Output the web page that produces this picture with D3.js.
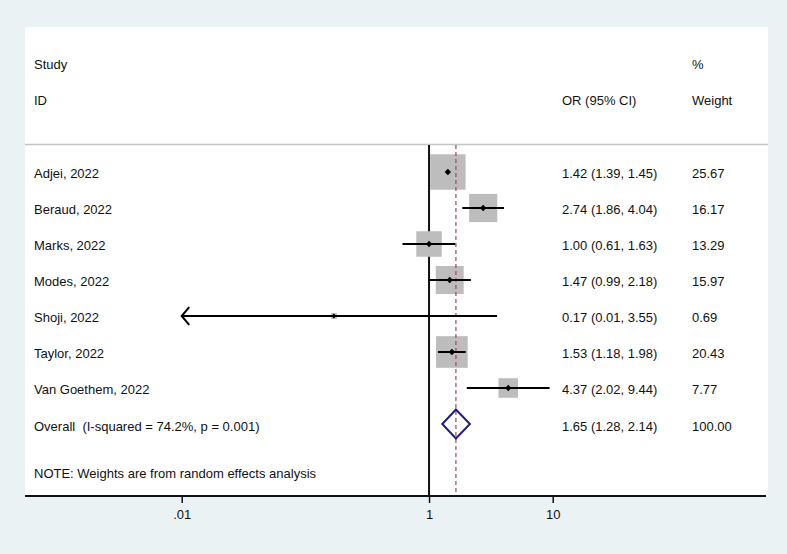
<!DOCTYPE html>
<html>
<head>
<meta charset="utf-8">
<script src="https://cdn.jsdelivr.net/npm/d3@7/dist/d3.min.js"></script>
<style>
  html, body { margin: 0; padding: 0; background: rgb(234,242,243); }
  svg { display: block; }
  text { font-family: "Liberation Sans", Arial, Helvetica, sans-serif; font-size: 13px; fill: #111; white-space: pre; }
</style>
</head>
<body>
<svg id="chart" width="787" height="554"></svg>
<script>
// ---- data ----
const studies = ["Adjei, 2022", "Beraud, 2022", "Marks, 2022", "Modes, 2022", "Shoji, 2022", "Taylor, 2022", "Van Goethem, 2022"];
const oddsRatios = [1.42, 2.74, 1.00, 1.47, 0.17, 1.53, 4.37];
const ciLower = [1.39, 1.86, 0.61, 0.99, 0.01, 1.18, 2.02];
const ciUpper = [1.45, 4.04, 1.63, 2.18, 3.55, 1.98, 9.44];
const weights = [25.67, 16.17, 13.29, 15.97, 0.69, 20.43, 7.77];
const orLabels = ["1.42 (1.39, 1.45)", "2.74 (1.86, 4.04)", "1.00 (0.61, 1.63)", "1.47 (0.99, 2.18)", "0.17 (0.01, 3.55)", "1.53 (1.18, 1.98)", "4.37 (2.02, 9.44)"];
const weightLabels = ["25.67", "16.17", "13.29", "15.97", "0.69", "20.43", "7.77"];
const overallLabel = "Overall  (I-squared = 74.2%, p = 0.001)";
const overallOR = [1.65];
const overallLower = [1.28];
const overallUpper = [2.14];
const overallORLabel = "1.65 (1.28, 2.14)";
const overallWeightLabel = "100.00";
const noteText = "NOTE: Weights are from random effects analysis";
const tickValues = [0.01, 1, 10];
const tickLabels = [".01", "1", "10"];
const nullValue = 1;

// ---- layout ----
const W = 787, H = 554;
const panel = { x0: 25, x1: 768, y0: 27, y1: 496 };
const svg = d3.select("#chart");

svg.append("rect").attr("x", 0).attr("y", 0).attr("width", W).attr("height", H).attr("fill", "rgb(234,242,243)");
svg.append("rect").attr("x", panel.x0).attr("y", panel.y0)
  .attr("width", panel.x1 - panel.x0).attr("height", panel.y1 - panel.y0).attr("fill", "#fff");

const x = d3.scaleLog().domain([0.01, 10]).range([181.7, 552.7]);
const y = d3.scaleLinear().domain([0, studies.length]).range([172, 424]);
const boxSide = d3.scaleSqrt().domain([0, 100]).range([0, 70]);

const colStudy = 34, colOR = 562, colW = 692;

// header
const hdr = svg.append("g");
hdr.append("text").attr("x", colStudy).attr("y", 69).text("Study");
hdr.append("text").attr("x", colStudy).attr("y", 105).text("ID");
hdr.append("text").attr("x", colOR).attr("y", 105).text("OR (95% CI)");
hdr.append("text").attr("x", colW).attr("y", 69).text("%");
hdr.append("text").attr("x", colW).attr("y", 105).text("Weight");
svg.append("line").attr("x1", panel.x0).attr("x2", panel.x1).attr("y1", 144.5).attr("y2", 144.5)
  .attr("stroke", "#c4c4c4").attr("stroke-width", 1.5);

// reference lines
const vTop = 145, vBot = panel.y1;
svg.append("line").attr("x1", x(nullValue)).attr("x2", x(nullValue)).attr("y1", vTop).attr("y2", vBot)
  .attr("stroke", "#111").attr("stroke-width", 2);

// boxes
const rows = studies.map((s, i) => ({ s, i, or: oddsRatios[i], lo: ciLower[i], hi: ciUpper[i], w: weights[i] }));
svg.append("g").selectAll("rect").data(rows).join("rect")
  .attr("x", d => x(d.or) - boxSide(d.w) / 2)
  .attr("y", d => y(d.i) - boxSide(d.w) / 2)
  .attr("width", d => boxSide(d.w))
  .attr("height", d => boxSide(d.w))
  .attr("fill", "#bdbdbd");

// overall dashed line
svg.append("line").attr("x1", x(overallOR[0])).attr("x2", x(overallOR[0])).attr("y1", vTop).attr("y2", vBot)
  .attr("stroke", "#b04050").attr("stroke-width", 1.2).attr("stroke-dasharray", "4,3");

// CI lines
const xMin = x.domain()[0];
const ci = svg.append("g");
rows.forEach(d => {
  const left = Math.max(d.lo, xMin);
  ci.append("line").attr("x1", x(left)).attr("x2", x(d.hi)).attr("y1", y(d.i)).attr("y2", y(d.i))
    .attr("stroke", "#000").attr("stroke-width", 2);
  if (d.lo <= xMin) {
    const tx = x(xMin), ty = y(d.i);
    ci.append("path").attr("d", `M${tx + 7.5},${ty - 8.8}L${tx},${ty}L${tx + 7.5},${ty + 8.8}`)
      .attr("fill", "none").attr("stroke", "#000").attr("stroke-width", 2);
  }
});

// point markers
svg.append("g").selectAll("path").data(rows).join("path")
  .attr("d", d => { const cx = x(d.or), cy = y(d.i), r = d.w < 2 ? 2.4 : 3.2; return `M${cx},${cy - r}L${cx + r},${cy}L${cx},${cy + r}L${cx - r},${cy}Z`; })
  .attr("fill", "#000");

// overall diamond
const oy = y(studies.length);
svg.append("path")
  .attr("d", `M${x(overallLower[0])},${oy}L${x(overallOR[0])},${oy - 14.5}L${x(overallUpper[0])},${oy}L${x(overallOR[0])},${oy + 14.5}Z`)
  .attr("fill", "none").attr("stroke", "#1f1f7a").attr("stroke-width", 2);

// row texts
const txt = svg.append("g");
rows.forEach(d => {
  txt.append("text").attr("x", colStudy).attr("y", y(d.i) + 5.5).text(d.s);
  txt.append("text").attr("x", colOR).attr("y", y(d.i) + 5.5).text(orLabels[d.i]);
  txt.append("text").attr("x", colW).attr("y", y(d.i) + 5.5).text(weightLabels[d.i]);
});
txt.append("text").attr("x", colStudy).attr("y", oy + 6.5).text(overallLabel);
txt.append("text").attr("x", colOR).attr("y", oy + 6.5).text(overallORLabel);
txt.append("text").attr("x", colW).attr("y", oy + 6.5).text(overallWeightLabel);
txt.append("text").attr("x", colStudy).attr("y", 478).text(noteText);

// x axis
const axis = svg.append("g").attr("transform", `translate(0,${panel.y1})`)
  .call(d3.axisBottom(x).tickValues(tickValues).tickFormat((d, i) => tickLabels[i]).tickSize(7).tickPadding(7));
axis.select(".domain").remove();
axis.selectAll(".tick line").attr("stroke", "#111").attr("stroke-width", 1.5);
axis.selectAll(".tick text").attr("font-size", 13).attr("font-family", "'Liberation Sans', Arial, sans-serif").attr("fill", "#111");
svg.append("line").attr("x1", panel.x0).attr("x2", 766).attr("y1", panel.y1).attr("y2", panel.y1)
  .attr("stroke", "#111").attr("stroke-width", 2);
</script>
</body>
</html>
